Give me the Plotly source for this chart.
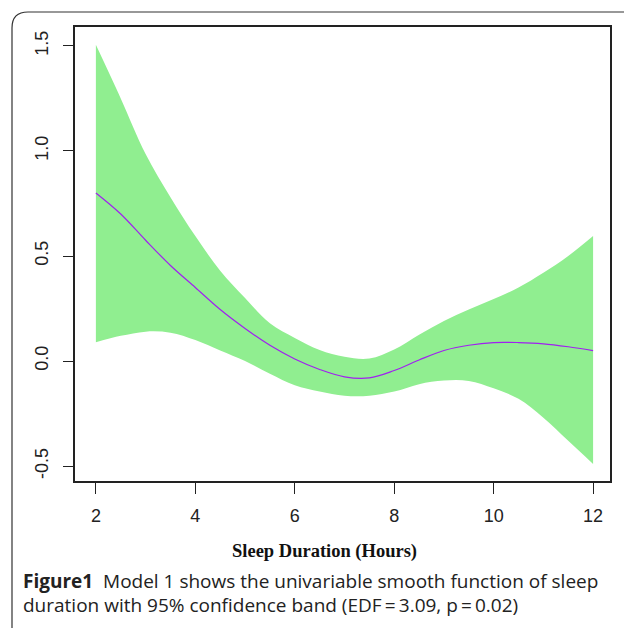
import plotly.graph_objects as go

# Data
sleep_hours = [2.0, 2.5, 3.0, 3.5, 4.0, 4.5, 5.0, 5.5, 6.0, 6.5, 7.0,
               7.5, 8.0, 8.5, 9.0, 9.5, 10.0, 10.5, 11.0, 11.5, 12.0]
fit = [0.80, 0.70, 0.575, 0.455, 0.35, 0.245, 0.155, 0.075, 0.01, -0.04, -0.075,
       -0.08, -0.045, 0.005, 0.05, 0.075, 0.088, 0.088, 0.082, 0.068, 0.05]
upper = [1.505, 1.25, 0.985, 0.78, 0.595, 0.43, 0.30, 0.18, 0.11, 0.052, 0.02,
         0.012, 0.055, 0.125, 0.19, 0.245, 0.295, 0.35, 0.42, 0.50, 0.595]
lower = [0.09, 0.12, 0.14, 0.135, 0.10, 0.05, 0.0, -0.06, -0.115, -0.145, -0.165,
         -0.165, -0.145, -0.11, -0.093, -0.095, -0.13, -0.18, -0.27, -0.38, -0.49]
x_ticks = [2, 4, 6, 8, 10, 12]
y_ticks = [-0.5, 0.0, 0.5, 1.0, 1.5]
y_tick_labels = ["-0.5", "0.0", "0.5", "1.0", "1.5"]

W, H = 624, 628
L, R, T, B = 75, 610, 27, 481


def px(xp):
    return (xp - L) / (R - L)


def py(yp):
    return (B - yp) / (B - T)


fig = go.Figure()
fig.add_trace(go.Scatter(
    x=sleep_hours, y=lower, mode="lines",
    line=dict(width=0, shape="spline", color="#90EE90"),
    hoverinfo="skip", showlegend=False))
fig.add_trace(go.Scatter(
    x=sleep_hours, y=upper, mode="lines", fill="tonexty", fillcolor="#90EE90",
    line=dict(width=0, shape="spline", color="#90EE90"),
    hoverinfo="skip", showlegend=False))
fig.add_trace(go.Scatter(
    x=sleep_hours, y=fit, mode="lines",
    line=dict(color="#A020F0", width=1.2, shape="spline"), showlegend=False))

fig.update_layout(
    width=W, height=H,
    margin=dict(l=L, r=W - R, t=T, b=H - B),
    paper_bgcolor="white", plot_bgcolor="white",
    font=dict(family="Liberation Sans, Arial, sans-serif", size=18, color="#222"),
    showlegend=False,
)
fig.update_xaxes(
    range=[1.58, 12.34], tickvals=x_ticks, ticktext=[str(v) for v in x_ticks],
    showgrid=False, zeroline=False, showline=True, mirror=True,
    linecolor="#222", linewidth=1.5, ticks="outside", ticklen=11,
    tickcolor="#222", tickwidth=1.2, ticklabelstandoff=7,
    tickfont=dict(size=18, color="#222"))
fig.update_yaxes(
    range=[-0.571, 1.590], tickvals=y_ticks, ticktext=y_tick_labels,
    showgrid=False, zeroline=False, showline=True, mirror=True,
    linecolor="#222", linewidth=1.5, ticks="outside", ticklen=10,
    tickcolor="#222", tickwidth=1.2, tickangle=-90, ticklabelstandoff=8,
    tickfont=dict(size=18, color="#222"))

# outer rounded frame
rad = 16
fig.add_shape(type="path", xref="paper", yref="paper",
              path=(f"M {px(12)},{py(628)} L {px(12)},{py(12 + rad)} "
                    f"Q {px(12)},{py(12)} {px(12 + rad)},{py(12)} L {px(630)},{py(12)}"),
              line=dict(color="#333", width=1.2))

fig.add_annotation(
    x=px(324), y=py(551), xref="paper", yref="paper", showarrow=False,
    text="<b>Sleep Duration (Hours)</b>", xanchor="center", yanchor="middle",
    font=dict(family="Liberation Serif, Times New Roman, serif", size=18.5, color="#111"))
fig.add_annotation(
    x=px(21), y=py(581), xref="paper", yref="paper", showarrow=False,
    text="<b>Figure1</b>  Model 1 shows the univariable smooth function of sleep",
    xanchor="left", yanchor="middle",
    font=dict(family="Open Sans, Noto Sans, sans-serif", size=19, color="#222"))
fig.add_annotation(
    x=px(21), y=py(605), xref="paper", yref="paper", showarrow=False,
    text="duration with 95% confidence band (EDF\u2009=\u20093.09, p\u2009=\u20090.02)",
    xanchor="left", yanchor="middle",
    font=dict(family="Open Sans, Noto Sans, sans-serif", size=19, color="#222"))

fig.write_html("out.html")
